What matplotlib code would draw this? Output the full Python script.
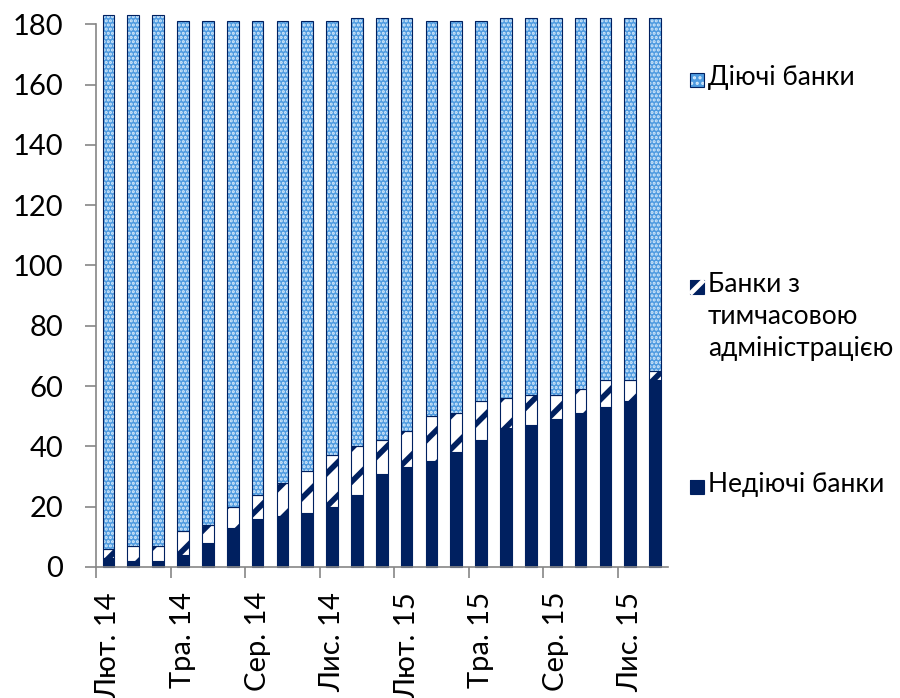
import matplotlib.pyplot as plt
from matplotlib.patches import Rectangle
from matplotlib.lines import Line2D
import numpy as np

plt.rcParams['font.family'] = ['Lato', 'DejaVu Sans']
plt.rcParams['hatch.linewidth'] = 1.5

# monthly counts, Feb 2014 - Dec 2015
idle = [3, 2, 2, 4, 8, 13, 16, 17, 18, 20, 24, 31,
        33, 35, 38, 42, 46, 47, 49, 51, 53, 55, 62]
temp_admin = [3, 5, 5, 8, 6, 7, 8, 11, 14, 17, 16, 11,
              12, 15, 13, 13, 10, 10, 8, 8, 9, 7, 3]
active = [177, 176, 176, 169, 167, 161, 157, 153, 149, 144, 142, 140,
          137, 131, 130, 126, 126, 125, 125, 123, 120, 120, 117]
tick_labels = ['Лют. 14', 'Тра. 14', 'Сер. 14', 'Лис. 14',
               'Лют. 15', 'Тра. 15', 'Сер. 15', 'Лис. 15']
legend_labels = ['Діючі банки', 'Банки з\nтимчасовою\nадміністрацією',
                 'Недіючі банки']

navy = '#002060'
blue = '#4f9be0'
dot = '#d8ebfb'
grey = '#868686'


def thick_hatch(patches, lw):
    # wider stripes for the diagonal pattern only
    for p in patches:
        if hasattr(p, 'set_hatch_linewidth'):
            p.set_hatch_linewidth(lw)


x = np.arange(len(idle))
idle = np.array(idle)
temp_admin = np.array(temp_admin)
active = np.array(active)
w = 0.47

fig = plt.figure(figsize=(9, 6.98), dpi=100)
ax = fig.add_axes([0.1067, 0.1877, 0.635, 0.7775])

ax.bar(x, idle, w, color=navy, edgecolor=navy, lw=0.8, clip_on=False)
with plt.rc_context({'hatch.linewidth': 4.0}):
    striped = ax.bar(x, temp_admin, w, bottom=idle, color='white',
                     edgecolor=navy, hatch='/', lw=0, clip_on=False)
thick_hatch(striped, 4.0)
ax.bar(x, temp_admin, w, bottom=idle, fill=False, edgecolor=navy,
       lw=0.8, clip_on=False)
ax.bar(x, active, w, bottom=idle + temp_admin, color=blue,
       edgecolor=dot, hatch='....', lw=0, clip_on=False)
ax.bar(x, active, w, bottom=idle + temp_admin, fill=False,
       edgecolor=navy, lw=0.8, clip_on=False)

ax.set_xlim(-0.5, 22.5)
ax.set_ylim(0, 180)
ax.set_yticks(range(0, 181, 20))

ax.set_xticks(x[::3])
ax.set_xticklabels(tick_labels, rotation=90)
ax.set_xticks(np.arange(-0.5, 22, 3), minor=True)
ax.tick_params(axis='x', which='major', length=0, pad=18, labelsize=21)
ax.tick_params(axis='x', which='minor', length=7.7, width=1.2, color=grey)
ax.tick_params(axis='y', length=7.7, width=1.2, color=grey, pad=16,
               labelsize=21)

for s in ['top', 'right']:
    ax.spines[s].set_visible(False)
for s in ['left', 'bottom']:
    ax.spines[s].set_color(grey)
    ax.spines[s].set_linewidth(1.2)

# legend drawn by hand, entries spread down the right side
fw, fh = fig.get_size_inches() * fig.dpi
sq = 14
mx = 690
legend_y = [80, 287, 487]
fills = [dict(facecolor=blue, edgecolor=dot, hatch='...'),
         dict(facecolor=navy, edgecolor=navy),
         dict(facecolor=navy, edgecolor=navy)]
for i, (y, lab, st) in enumerate(zip(legend_y, legend_labels, fills)):
    x0, y0 = mx / fw, 1 - (y + sq / 2) / fh
    fig.patches.append(Rectangle((x0, y0), sq / fw, sq / fh,
                                 transform=fig.transFigure, lw=0, **st))
    if i == 1:
        fig.lines.append(Line2D([x0, x0 + sq / fw], [y0, y0 + sq / fh],
                                transform=fig.transFigure, color='white',
                                lw=3.5, solid_capstyle='butt'))
    fig.patches.append(Rectangle((x0, y0), sq / fw, sq / fh,
                                 transform=fig.transFigure, fill=False,
                                 edgecolor=navy, lw=0.8))
    fig.text(708 / fw, 1 - (y - 15) / fh, lab, fontsize=19, va='top',
             ha='left', linespacing=1.34)

fig.savefig('out.png', dpi=100)
